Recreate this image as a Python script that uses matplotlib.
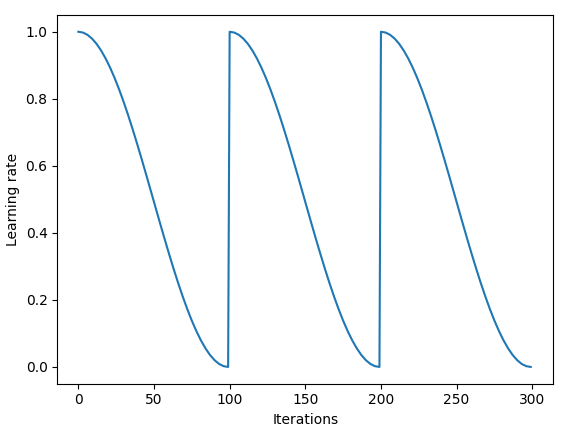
import matplotlib
matplotlib.use("Agg")
import matplotlib.pyplot as plt

# Iterations (sampled every 3 steps within each 100-step cycle)
iterations = [
    0, 3, 6, 9, 12, 15, 18, 21, 24, 27, 30, 33, 36, 39, 42, 45, 48,
    51, 54, 57, 60, 63, 66, 69, 72, 75, 78, 81, 84, 87, 90, 93, 96, 99,
    100, 103, 106, 109, 112, 115, 118, 121, 124, 127, 130, 133, 136, 139, 142, 145, 148,
    151, 154, 157, 160, 163, 166, 169, 172, 175, 178, 181, 184, 187, 190, 193, 196, 199,
    200, 203, 206, 209, 212, 215, 218, 221, 224, 227, 230, 233, 236, 239, 242, 245, 248,
    251, 254, 257, 260, 263, 266, 269, 272, 275, 278, 281, 284, 287, 290, 293, 296, 299,
]

learning_rate = [
    1.0000, 0.9977, 0.9910, 0.9797, 0.9642, 0.9444, 0.9206, 0.8930, 0.8619, 0.8274,
    0.7900, 0.7500, 0.7077, 0.6635, 0.6179, 0.5712, 0.5238, 0.4762, 0.4288, 0.3821,
    0.3365, 0.2923, 0.2500, 0.2100, 0.1726, 0.1381, 0.1070, 0.0794, 0.0556, 0.0358,
    0.0203, 0.0090, 0.0023, 0.0000,
    1.0000, 0.9977, 0.9910, 0.9797, 0.9642, 0.9444, 0.9206, 0.8930, 0.8619, 0.8274,
    0.7900, 0.7500, 0.7077, 0.6635, 0.6179, 0.5712, 0.5238, 0.4762, 0.4288, 0.3821,
    0.3365, 0.2923, 0.2500, 0.2100, 0.1726, 0.1381, 0.1070, 0.0794, 0.0556, 0.0358,
    0.0203, 0.0090, 0.0023, 0.0000,
    1.0000, 0.9977, 0.9910, 0.9797, 0.9642, 0.9444, 0.9206, 0.8930, 0.8619, 0.8274,
    0.7900, 0.7500, 0.7077, 0.6635, 0.6179, 0.5712, 0.5238, 0.4762, 0.4288, 0.3821,
    0.3365, 0.2923, 0.2500, 0.2100, 0.1726, 0.1381, 0.1070, 0.0794, 0.0556, 0.0358,
    0.0203, 0.0090, 0.0023, 0.0000,
]

fig = plt.figure(figsize=(5.68, 4.29), dpi=100)
ax = fig.add_axes([57.3 / 568, 1 - 383.7 / 429, 496 / 568, 368.7 / 429])
ax.plot(iterations, learning_rate, color="#1f77b4", linewidth=1.5)
ax.set_xlim(-13.9, 313.9)
ax.set_ylim(-0.05, 1.05)
ax.set_xlabel("Iterations")
ax.set_ylabel("Learning rate")
fig.savefig("out.png", dpi=100)
